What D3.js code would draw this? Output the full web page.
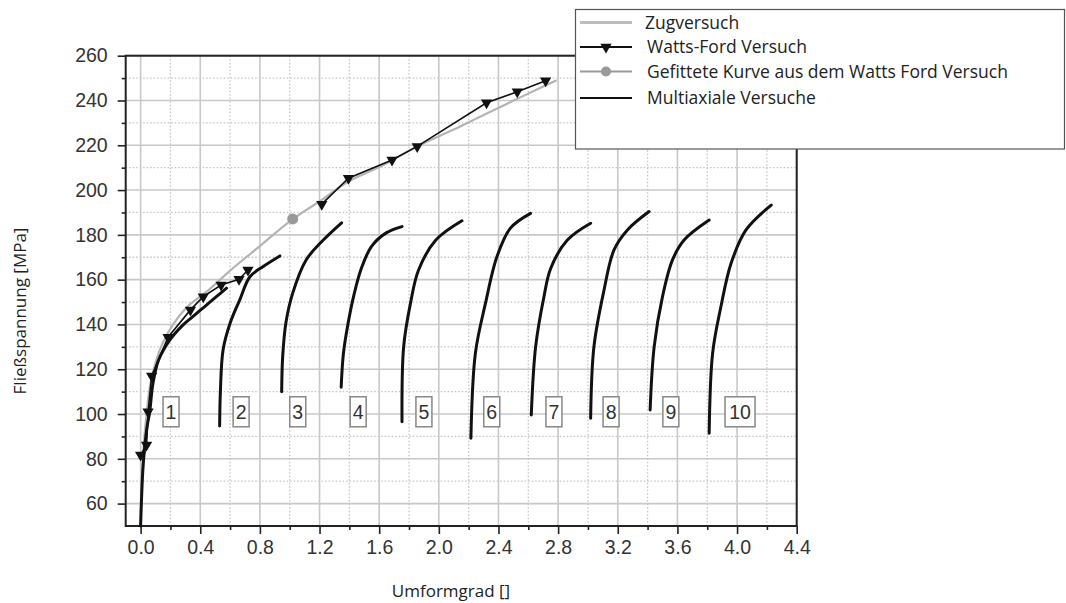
<!DOCTYPE html>
<html><head><meta charset="utf-8">
<script src="https://cdn.jsdelivr.net/npm/d3@7"></script>
<style>body{margin:0;background:#fff}svg{display:block}</style>
</head><body>
<svg id="c" width="1066" height="603"></svg>
<script>
// ---- data ----
const xTicks = [0,0.4,0.8,1.2,1.6,2.0,2.4,2.8,3.2,3.6,4.0,4.4];
const yTicks = [60,80,100,120,140,160,180,200,220,240,260];
const legendLabels = ["Zugversuch","Watts-Ford Versuch","Gefittete Kurve aus dem Watts Ford Versuch","Multiaxiale Versuche"];

const zugX = [0,0.008,0.02,0.04,0.07,0.15,0.3,0.45,0.6,0.8,1.02,1.215,1.394,1.607,1.855,2.1,2.3,2.55,2.79];
const zugY = [52,70,85,100,115,132,147,155,164,175,187,195.6,203.8,210.5,219.5,227,233.5,241.5,249];

const wfX = [0.0,0.04,0.05,0.074,0.184,0.334,0.42,0.54,0.66,0.72,null,1.215,1.394,1.686,1.855,2.32,2.526,2.716];
const wfY = [81.7,86.2,101,117,134.3,146.5,152.4,157.6,160.2,164.3,null,193.7,205.3,213.4,219.5,239,243.9,248.8];

const fitX = [1.02];
const fitY = [187.1];

const multiX = [
  [0,0.005,0.015,0.027,0.045,0.06,0.083,0.12,0.195,0.28,0.35,0.43,0.508,0.576],
  [0.53,0.535,0.553,0.6,0.665,0.733,0.82,0.934],
  [0.946,0.953,0.975,1.02,1.11,1.225,1.348],
  [1.345,1.36,1.39,1.43,1.48,1.55,1.65,1.753],
  [1.753,1.764,1.81,1.864,1.98,2.155],
  [2.215,2.245,2.313,2.39,2.48,2.615],
  [2.62,2.649,2.705,2.75,2.862,3.018],
  [3.018,3.04,3.108,3.175,3.265,3.41],
  [3.417,3.444,3.5,3.567,3.645,3.813],
  [3.813,3.836,3.892,3.96,4.06,4.229]
];
const multiY = [
  [50,60,75,85,95,100.5,113.7,124,133,139.5,143.5,148,152.4,156.2],
  [94.7,110,128.6,140.5,151,161.3,165.8,170.6],
  [110,126,141,154,168.8,177.7,185.4],
  [112,127,140,153,165,175,181,183.7],
  [96.6,130,149.5,164.3,177.7,186.3],
  [89.2,127.1,149.5,170.3,183,189.6],
  [99.6,130,152.4,165,177.7,185.2],
  [98.1,130,155.4,173.3,182.2,190.4],
  [101.8,130,152.4,168.8,177.7,186.6],
  [91.4,127.1,148,167.3,182.2,193.3]
];
const curveLabels = ["1","2","3","4","5","6","7","8","9","10"];
const curveLabelX = [0.204,0.674,1.054,1.459,1.9,2.355,2.772,3.155,3.556,4.02];
const curveLabelY = [101,101,101,101,101,101,101,101,101,101];

// ---- layout ----
const L = 125.7, R = 796.7, T = 55.7, B = 526;
const svg = d3.select("#c");
const x = d3.scaleLinear().domain([-0.1,4.4]).range([L,R]);
const y = d3.scaleLinear().domain([50,260]).range([B,T]);

const xMinor = d3.range(0.2,4.4,0.4);
const yMinor = d3.range(70,260,20);

// grid
const g = svg.append("g");
g.selectAll(".gxm").data(xMinor).join("line")
  .attr("x1",d=>x(d)).attr("x2",d=>x(d)).attr("y1",T).attr("y2",B)
  .attr("stroke","#c4c4c4").attr("stroke-width",1.3).attr("stroke-dasharray","1.5,2");
g.selectAll(".gym").data(yMinor).join("line")
  .attr("y1",d=>y(d)).attr("y2",d=>y(d)).attr("x1",L).attr("x2",R)
  .attr("stroke","#c4c4c4").attr("stroke-width",1.3).attr("stroke-dasharray","1.5,2");
g.selectAll(".gx").data(xTicks).join("line")
  .attr("x1",d=>x(d)).attr("x2",d=>x(d)).attr("y1",T).attr("y2",B)
  .attr("stroke","#c8c8c8").attr("stroke-width",1.6);
g.selectAll(".gy").data(yTicks).join("line")
  .attr("y1",d=>y(d)).attr("y2",d=>y(d)).attr("x1",L).attr("x2",R)
  .attr("stroke","#c8c8c8").attr("stroke-width",1.6);

// axes
const xAxis = d3.axisBottom(x).tickValues(xTicks).tickSize(8).tickPadding(6).tickFormat(d3.format(".1f"));
const yAxis = d3.axisLeft(y).tickValues(yTicks).tickSize(8).tickPadding(10).tickFormat(d3.format("d"));
const ax = svg.append("g").attr("transform",`translate(0,${B})`).call(xAxis);
const ay = svg.append("g").attr("transform",`translate(${L},0)`).call(yAxis);
svg.append("g").attr("transform",`translate(0,${B})`)
  .call(d3.axisBottom(x).tickValues(xMinor).tickSize(4).tickFormat(""));
svg.append("g").attr("transform",`translate(${L},0)`)
  .call(d3.axisLeft(y).tickValues(yMinor).tickSize(4).tickFormat(""));
svg.selectAll(".domain").remove();
svg.selectAll(".tick line").attr("stroke","#222").attr("stroke-width",1.6);
[ax,ay].forEach(a=>a.selectAll("text").attr("font-family","Liberation Sans, Arial, sans-serif")
  .attr("font-size",19.5).attr("fill","#333"));
// frame
svg.append("rect").attr("x",L).attr("y",T).attr("width",R-L).attr("height",B-T)
  .attr("fill","none").attr("stroke","#222").attr("stroke-width",2);

// titles
svg.append("text").attr("x",451).attr("y",597).attr("text-anchor","middle")
  .attr("font-family","Open Sans, sans-serif").attr("font-size",17).attr("fill","#222").text("Umformgrad []");
svg.append("text").attr("transform","translate(26,311) rotate(-90)").attr("text-anchor","middle")
  .attr("font-family","Open Sans, sans-serif").attr("font-size",17).attr("fill","#222").text("Fließspannung [MPa]");

// series
const lineXY = (xs,ys) => xs.map((v,i)=>[v,ys[i]]);
const ln = d3.line().defined(d=>d[0]!==null).x(d=>x(d[0])).y(d=>y(d[1])).curve(d3.curveCatmullRom.alpha(0.5));
const lnStraight = d3.line().defined(d=>d[0]!==null).x(d=>x(d[0])).y(d=>y(d[1]));

svg.append("path").attr("d",ln(lineXY(zugX,zugY))).attr("fill","none")
  .attr("stroke","#b4b4b4").attr("stroke-width",2.2);

multiX.forEach((xs,i)=>{
  svg.append("path").attr("d",ln(lineXY(xs,multiY[i]))).attr("fill","none")
    .attr("stroke","#111").attr("stroke-width",3).attr("stroke-linecap","round");
});

svg.append("path").attr("d",lnStraight(lineXY(wfX,wfY))).attr("fill","none")
  .attr("stroke","#111").attr("stroke-width",1.6);
const tri = d3.symbol().type(d3.symbolTriangle).size(55);
svg.selectAll(".wf").data(lineXY(wfX,wfY).filter(d=>d[0]!==null)).join("path")
  .attr("d",tri).attr("transform",d=>`translate(${x(d[0])},${y(d[1])}) rotate(180)`).attr("fill","#111");

svg.selectAll(".fit").data(lineXY(fitX,fitY)).join("circle")
  .attr("cx",d=>x(d[0])).attr("cy",d=>y(d[1])).attr("r",5.5).attr("fill","#999");

// curve labels
curveLabels.forEach((t,i)=>{
  const cx = x(curveLabelX[i]), cy = y(curveLabelY[i]);
  const w = t.length===1 ? 16 : 30;
  svg.append("rect").attr("x",cx-w/2).attr("y",cy-15).attr("width",w).attr("height",30)
    .attr("fill","#fff").attr("stroke","#888").attr("stroke-width",1.5);
  svg.append("text").attr("x",cx).attr("y",cy+7).attr("text-anchor","middle")
    .attr("font-family","Liberation Sans, Arial, sans-serif").attr("font-size",19.5).attr("fill","#333").text(t);
});

// legend
const lg = svg.append("g");
lg.append("rect").attr("x",575.5).attr("y",9.5).attr("width",489).attr("height",139.5)
  .attr("fill","#fff").attr("stroke","#555").attr("stroke-width",1.2);
const legY = [22.5,47,71.5,98];
const legColor = ["#bdbdbd","#111","#999","#111"];
legendLabels.forEach((t,i)=>{
  lg.append("line").attr("x1",580).attr("x2",632).attr("y1",legY[i]).attr("y2",legY[i])
    .attr("stroke",legColor[i]).attr("stroke-width",i===0?3:2.2);
  lg.append("text").attr("x",i===0?645:647).attr("y",legY[i]+6)
    .attr("font-family","Open Sans, sans-serif").attr("font-size",17.5).attr("fill","#222").text(t);
});
lg.append("path").attr("d",tri).attr("transform",`translate(606,${legY[1]}) rotate(180)`).attr("fill","#111");
lg.append("circle").attr("cx",606).attr("cy",legY[2]).attr("r",5).attr("fill","#999");
</script>
</body></html>
